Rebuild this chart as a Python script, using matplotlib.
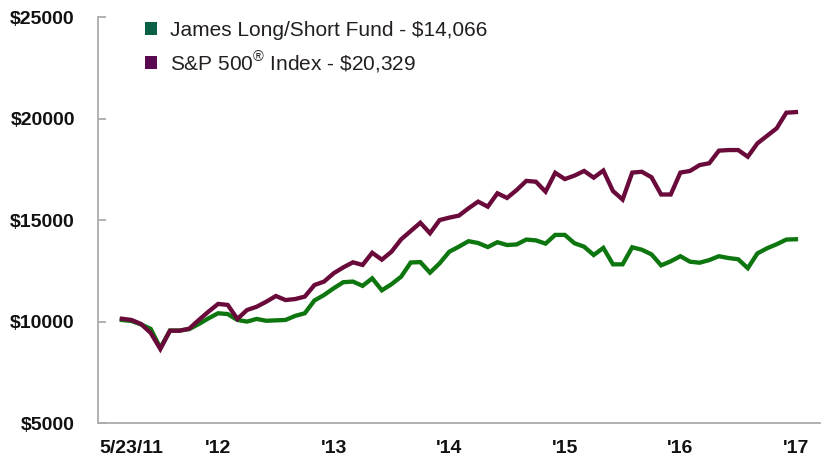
import matplotlib
matplotlib.use('Agg')
import matplotlib.pyplot as plt
from matplotlib.patches import Patch

plt.rcParams['font.family'] = ['Liberation Sans', 'DejaVu Sans']
plt.rcParams['mathtext.fontset'] = 'custom'
plt.rcParams['mathtext.rm'] = 'Liberation Sans'

# month-end values since inception (5/23/11)
fund = [10090, 10040, 9870, 9650, 8710, 9570, 9570, 9640, 9890, 10170,
        10420, 10380, 10090, 10010, 10140, 10050, 10070, 10090, 10290, 10420,
        11050, 11320, 11650, 11950, 11980, 11770, 12140, 11550, 11850, 12220,
        12920, 12940, 12420, 12880, 13450, 13700, 13970, 13880, 13680, 13920,
        13780, 13810, 14050, 14010, 13850, 14280, 14280, 13870, 13700, 13290,
        13640, 12830, 12830, 13670, 13550, 13320, 12780, 12980, 13230, 12960,
        12910, 13040, 13230, 13140, 13080, 12640, 13370, 13620, 13820, 14050,
        14066]
sp500 = [10150, 10090, 9890, 9450, 8660, 9560, 9560, 9660, 10090, 10500,
         10880, 10830, 10140, 10580, 10740, 10990, 11270, 11070, 11120, 11240,
         11810, 11980, 12390, 12680, 12930, 12800, 13400, 13060, 13450, 14060,
         14470, 14880, 14360, 15010, 15130, 15230, 15590, 15920, 15670, 16330,
         16100, 16490, 16940, 16900, 16410, 17340, 17030, 17200, 17430, 17100,
         17450, 16440, 16020, 17350, 17390, 17120, 16270, 16270, 17350, 17430,
         17720, 17810, 18430, 18460, 18460, 18130, 18790, 19160, 19530, 20300,
         20329]

x_ticks = [1, 10, 22, 34, 46, 58, 70]
x_labels = ['5/23/11', "'12", "'13", "'14", "'15", "'16", "'17"]
y_ticks = [5000, 10000, 15000, 20000, 25000]
y_labels = ['$5000', '$10000', '$15000', '$20000', '$25000']

legend_labels = ['James Long/Short Fund - $14,066',
                 r'S&P 500$^{\mathrm{®}}$ Index - \$20,329']

line_green = '#0d760f'
line_purple = '#6a0a3b'
box_green = '#0a6046'
box_purple = '#5a0a50'
grey = '#ababab'

fig = plt.figure(figsize=(8.22, 4.62), dpi=100)
ax = fig.add_axes([0.1189, 0.0838, 0.8787, 0.8788])

ax.plot(range(len(fund)), fund, color=line_green, lw=3.1, solid_joinstyle='miter')
ax.plot(range(len(sp500)), sp500, color=line_purple, lw=3.1, solid_joinstyle='miter')

ax.set_xlim(-2.5, 72.5)
ax.set_ylim(5000, 25000)

ax.set_xticks(x_ticks)
ax.set_xticklabels(x_labels)
ax.set_yticks(y_ticks)
ax.set_yticklabels(y_labels)

for side in ['top', 'right']:
    ax.spines[side].set_visible(False)
for side in ['left', 'bottom']:
    ax.spines[side].set_color(grey)
    ax.spines[side].set_linewidth(1.3)

ax.tick_params(axis='y', direction='in', length=5.5, width=1.3, color=grey,
               pad=16.5, labelsize=14, labelcolor='#111111')
ax.tick_params(axis='x', length=0, pad=12, labelsize=14, labelcolor='#111111')
for lbl in ax.get_xticklabels() + ax.get_yticklabels():
    lbl.set_fontweight('bold')

handles = [Patch(facecolor=box_green, edgecolor='none'),
           Patch(facecolor=box_purple, edgecolor='none')]
fig.legend(handles, legend_labels, loc='upper left',
           bbox_to_anchor=(0.1764, 0.955), frameon=False, fontsize=15,
           handlelength=0.58, handleheight=0.58, handletextpad=0.63,
           labelspacing=0.43, borderpad=0, borderaxespad=0,
           labelcolor='#231f20')

fig.savefig('out.png', dpi=100)
